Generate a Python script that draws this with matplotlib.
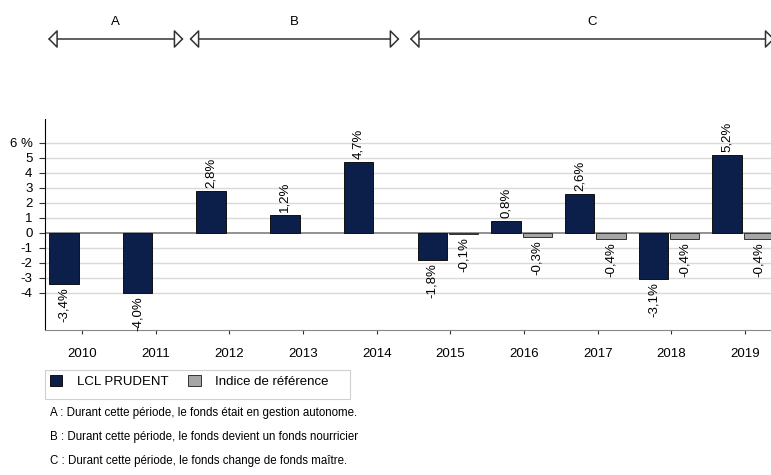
import matplotlib
matplotlib.use("Agg")
import matplotlib.pyplot as plt
import matplotlib.transforms as mtransforms
from matplotlib.patches import Patch, Rectangle

plt.rcParams["font.family"] = ["Liberation Sans", "DejaVu Sans"]

annees = [2010, 2011, 2012, 2013, 2014, 2015, 2016, 2017, 2018, 2019]
fonds = [-3.4, -4.0, 2.8, 1.2, 4.7, -1.8, 0.8, 2.6, -3.1, 5.2]
annees_indice = [2015, 2016, 2017, 2018, 2019]
indice = [-0.1, -0.3, -0.4, -0.4, -0.4]
yticks = [-4, -3, -2, -1, 0, 1, 2, 3, 4, 5, 6]
ylabels = ["-4", "-3", "-2", "-1", "0", "1", "2", "3", "4", "5", "6 %"]
periodes = [("A", 2009.54, 2011.38), ("B", 2011.46, 2014.31), ("C", 2014.45, 2019.40)]
notes = ["A : Durant cette période, le fonds était en gestion autonome.",
         "B : Durant cette période, le fonds devient un fonds nourricier",
         "C : Durant cette période, le fonds change de fonds maître."]

NAVY = "#0b1f4a"
GRIS = "#a6a6a6"


def pct(v):
    return f"{v:.1f}".replace(".", ",") + "%"


fig = plt.figure(figsize=(7.71, 4.75), dpi=100)
ax = fig.add_axes([45 / 771, 1 - 330 / 475, 737 / 771, 210.7 / 475])

w = 0.40
xf = [a - 0.245 for a in annees]
xi = [a + 0.18 for a in annees_indice]
ax.bar(xf, fonds, width=w, color=NAVY, edgecolor="#111111", lw=0.7, zorder=3)
ax.bar(xi, indice, width=w, color=GRIS, edgecolor="#333333", lw=0.7, zorder=3)

# etiquettes de valeur (verticales)
for x, v in list(zip(xf, fonds)) + list(zip(xi, indice)):
    if v >= 0:
        ax.text(x, v + 0.2, pct(v), rotation=90, ha="center", va="bottom", fontsize=9.5)
    else:
        ax.text(x, v - 0.22, pct(v), rotation=90, ha="center", va="top", fontsize=9.5)

ax.set_xlim(2009.5, 2019.5)
ax.set_ylim(-6.5, 7.55)
ax.set_xticks(annees)
ax.set_xticklabels([str(a) for a in annees], fontsize=9.5)
ax.set_yticks(yticks)
ax.set_yticklabels(ylabels, fontsize=9.5)
ax.tick_params(axis="x", length=3, pad=10, color="#333333")
ax.tick_params(axis="y", length=4, pad=5, color="#333333")
for y in yticks:
    if y == 0:
        ax.axhline(0, color="#7f7f7f", lw=1.2, zorder=2)
    else:
        ax.axhline(y, color="#d9d9d9", lw=1.0, zorder=1)
ax.spines["top"].set_visible(False)
ax.spines["right"].set_visible(False)
ax.spines["left"].set_color("black")
ax.spines["bottom"].set_color("#888888")

# periodes A / B / C
trans = mtransforms.blended_transform_factory(ax.transData, fig.transFigure)
for lab, x0, x1 in periodes:
    ax.annotate("", xy=(x1, 1 - 39 / 475), xytext=(x0, 1 - 39 / 475),
                xycoords=trans, textcoords=trans, annotation_clip=False,
                arrowprops=dict(arrowstyle="<|-|>,head_length=0.58,head_width=0.58",
                                fc="white", ec="#333333", lw=1.1,
                                shrinkA=0, shrinkB=0, mutation_scale=10))
    ax.text((x0 + x1) / 2, 1 - 22 / 475, lab, transform=trans,
            ha="center", va="center", fontsize=9.5)

handles = [Patch(fc=NAVY, ec="#111111", lw=0.7), Patch(fc=GRIS, ec="#333333", lw=0.7)]
leg = fig.legend(handles, ["LCL PRUDENT", "Indice de référence"], ncol=2,
                 loc="upper left", bbox_to_anchor=(47 / 771, 1 - 372 / 475),
                 fontsize=9.5, handlelength=0.95, handleheight=0.95, handletextpad=1.1,
                 columnspacing=1.5, borderpad=0.2, frameon=False, borderaxespad=0)
# cadre de la legende
fig.patches.append(Rectangle((45 / 771, 1 - 399 / 475), 305 / 771, 29 / 475,
                             transform=fig.transFigure, fill=False,
                             ec="#d0d0d0", lw=0.8))

for k, t in enumerate(notes):
    fig.text(50 / 771, 1 - (413 + 24 * k) / 475, t, fontsize=8.3, va="center")

fig.savefig("out.png", dpi=100)
